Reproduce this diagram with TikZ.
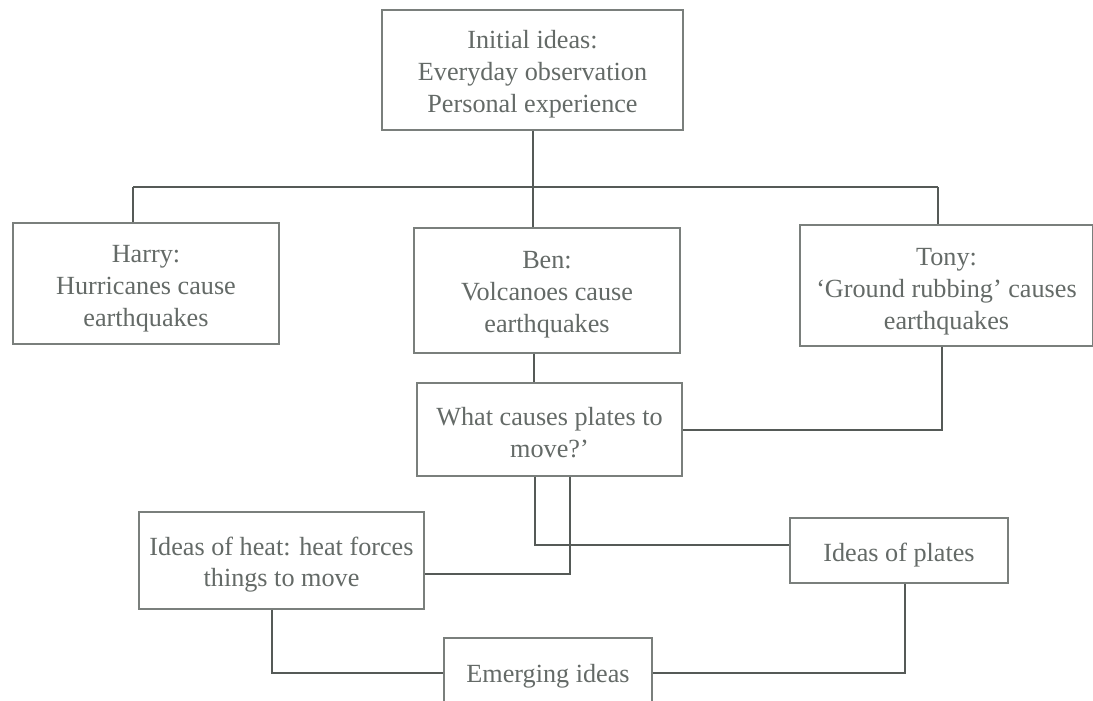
\documentclass[tikz,border=0pt]{standalone}
\usepackage{fontspec}
\setmainfont{Liberation Serif}
\definecolor{txtgrey}{HTML}{646A67}
\definecolor{boxgrey}{HTML}{7A7F7C}
\definecolor{linegrey}{HTML}{555A57}
\begin{document}
\begin{tikzpicture}[x=1pt,y=-1pt,
  box/.style={draw=boxgrey, line width=1.4pt, rectangle, inner sep=0pt},
  txt/.style={align=center, inner sep=0pt, text=txtgrey, font=\fontsize{26.2}{31.8}\selectfont},
  link/.style={draw=linegrey, line width=2pt}]
\useasboundingbox (0,0) rectangle (1093,701);
\fill[white] (0,0) rectangle (1093,701);
\begin{scope}
\clip (0,0) rectangle (1093,701);
\node[box, minimum width=301pt, minimum height=120pt,
  label={[txt, yshift=-4pt]center:{Initial ideas:\\Everyday observation\\Personal experience}}]
  (init) at (532.5,70) {};
\node[box, minimum width=266pt, minimum height=121pt,
  label={[txt, yshift=-5pt]center:{Harry:\\Hurricanes cause\\earthquakes}}]
  (harry) at (146,283.5) {};
\node[box, minimum width=266pt, minimum height=125pt,
  label={[txt, yshift=-4pt]center:{Ben:\\Volcanoes cause\\earthquakes}}]
  (ben) at (547,290.5) {};
\node[box, minimum width=293pt, minimum height=121pt,
  label={[txt, yshift=-6pt]center:{Tony:\\`Ground rubbing' causes\\earthquakes}}]
  (tony) at (946.5,285.5) {};
\node[box, minimum width=265pt, minimum height=93pt,
  label={[txt, yshift=-3pt]center:{What causes plates to\\move?'}}]
  (what) at (549.5,429.5) {};
\node[box, minimum width=285pt, minimum height=97pt,
  label={[txt, yshift=-4pt]center:{Ideas of heat: heat forces\\things to move}}]
  (heat) at (281.5,560.5) {};
\node[box, minimum width=218pt, minimum height=65pt,
  label={[txt, yshift=-5pt]center:{Ideas of plates}}]
  (plates) at (899,550.5) {};
\node[box, minimum width=208pt, minimum height=70pt,
  label={[txt, yshift=-3pt]center:{Emerging ideas}}]
  (emerging) at (548,673) {};

\coordinate (barL) at (133,187);
\coordinate (barR) at (938,187);
\draw[link] (init.south) -- (init.south |- barL);
\draw[link] (barL) -- (barR);
\draw[link] (barL) -- (barL |- harry.north);
\draw[link] (init.south |- barL) -- (init.south |- ben.north);
\draw[link] (barR) -- (barR |- tony.north);
\draw[link] ([xshift=-13pt]ben.south) -- ([xshift=-13pt]ben.south |- what.north);
\draw[link] ([xshift=-4.5pt]tony.south) |- (what.east);
\draw[link] ([xshift=-14.5pt]what.south) |- ([yshift=5.5pt]plates.west);
\draw[link] ([xshift=20.5pt]what.south) |- ([yshift=-13.5pt]heat.east);
\draw[link] ([xshift=-9.5pt]heat.south) |- (emerging.west);
\draw[link] ([xshift=6pt]plates.south) |- (emerging.east);
\end{scope}
\end{tikzpicture}
\end{document}
